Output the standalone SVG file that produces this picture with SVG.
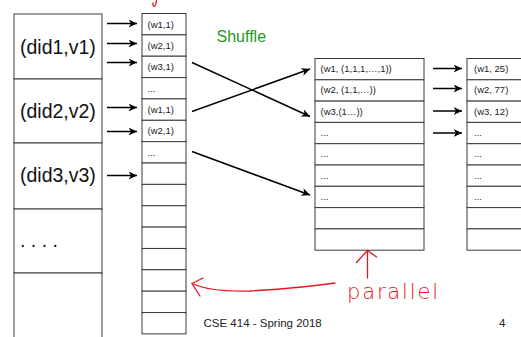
<svg xmlns="http://www.w3.org/2000/svg" width="521" height="337" viewBox="0 0 521 337">
<defs>
<style>
.cell{fill:#fff;stroke:#3a3a3a;stroke-width:1}
.big{font-family:"Liberation Sans",Arial,sans-serif;font-size:19.5px;fill:#111}
.sm{font-family:"Liberation Sans",Arial,sans-serif;font-size:9.5px;fill:#222}
.arr{stroke:#000;stroke-width:1.5;fill:none;marker-end:url(#ah)}
.red{stroke:#e8141c;stroke-width:1.3;fill:none;stroke-linecap:round;stroke-linejoin:round}
.foot{font-family:"Liberation Sans",Arial,sans-serif;font-size:11.5px;fill:#222}
</style>
<marker id="ah" markerUnits="userSpaceOnUse" markerWidth="9" markerHeight="8" refX="8.5" refY="4" orient="auto">
<path d="M0,0 L8.5,4 L0,8 L2.5,4 z" fill="#000"/>
</marker>
</defs>
<rect width="521" height="337" fill="#fff"/>

<g id="documents">
<rect class="cell" x="14" y="14" width="88" height="65"/>
<rect class="cell" x="14" y="79" width="88" height="64"/>
<rect class="cell" x="14" y="143" width="88" height="66"/>
<rect class="cell" x="14" y="209" width="88" height="64"/>
<rect class="cell" x="14" y="273" width="88" height="80"/>
<text class="big" x="20" y="53.5">(did1,v1)</text>
<text class="big" x="20" y="117.5">(did2,v2)</text>
<text class="big" x="20" y="182">(did3,v3)</text>
<text class="big" x="20" y="247">. . . .</text>
</g>

<g id="map-output">
<rect class="cell" x="142" y="13.5" width="44" height="21.36"/>
<rect class="cell" x="142" y="34.86" width="44" height="21.36"/>
<rect class="cell" x="142" y="56.22" width="44" height="21.36"/>
<rect class="cell" x="142" y="77.58" width="44" height="21.36"/>
<rect class="cell" x="142" y="98.94" width="44" height="21.36"/>
<rect class="cell" x="142" y="120.3" width="44" height="21.36"/>
<rect class="cell" x="142" y="141.66" width="44" height="21.36"/>
<rect class="cell" x="142" y="163.02" width="44" height="21.36"/>
<rect class="cell" x="142" y="184.38" width="44" height="21.36"/>
<rect class="cell" x="142" y="205.74" width="44" height="21.36"/>
<rect class="cell" x="142" y="227.1" width="44" height="21.36"/>
<rect class="cell" x="142" y="248.46" width="44" height="21.36"/>
<rect class="cell" x="142" y="269.82" width="44" height="21.36"/>
<rect class="cell" x="142" y="291.18" width="44" height="21.36"/>
<rect class="cell" x="142" y="312.54" width="44" height="21.36"/>
<text class="sm" x="147.5" y="27.5">(w1,1)</text>
<text class="sm" x="147.5" y="48.9">(w2,1)</text>
<text class="sm" x="147.5" y="70.2">(w3,1)</text>
<text class="sm" x="147.5" y="91.6">...</text>
<text class="sm" x="147.5" y="113">(w1,1)</text>
<text class="sm" x="147.5" y="134.3">(w2,1)</text>
<text class="sm" x="147.5" y="155.7">...</text>
</g>

<g id="shuffle-output">
<rect class="cell" x="315" y="58.5" width="109" height="21.3"/>
<rect class="cell" x="315" y="79.8" width="109" height="21.3"/>
<rect class="cell" x="315" y="101.1" width="109" height="21.3"/>
<rect class="cell" x="315" y="122.4" width="109" height="21.3"/>
<rect class="cell" x="315" y="143.7" width="109" height="21.3"/>
<rect class="cell" x="315" y="165" width="109" height="21.3"/>
<rect class="cell" x="315" y="186.3" width="109" height="21.3"/>
<rect class="cell" x="315" y="207.6" width="109" height="21.3"/>
<rect class="cell" x="315" y="228.9" width="109" height="21.3"/>
<text class="sm" x="320.5" y="72">(w1, (1,1,1,…,1))</text>
<text class="sm" x="320.5" y="93.3">(w2, (1,1,…))</text>
<text class="sm" x="320.5" y="114.6">(w3,(1…))</text>
<text class="sm" x="320.5" y="135.9">...</text>
<text class="sm" x="320.5" y="157.2">...</text>
<text class="sm" x="320.5" y="178.5">...</text>
<text class="sm" x="320.5" y="199.8">...</text>
</g>

<g id="reduce-output">
<rect class="cell" x="467" y="58.5" width="80" height="21.3"/>
<rect class="cell" x="467" y="79.8" width="80" height="21.3"/>
<rect class="cell" x="467" y="101.1" width="80" height="21.3"/>
<rect class="cell" x="467" y="122.4" width="80" height="21.3"/>
<rect class="cell" x="467" y="143.7" width="80" height="21.3"/>
<rect class="cell" x="467" y="165" width="80" height="21.3"/>
<rect class="cell" x="467" y="186.3" width="80" height="21.3"/>
<rect class="cell" x="467" y="207.6" width="80" height="21.3"/>
<rect class="cell" x="467" y="228.9" width="80" height="21.3"/>
<text class="sm" x="474" y="72">(w1, 25)</text>
<text class="sm" x="474" y="93.3">(w2, 77)</text>
<text class="sm" x="474" y="114.6">(w3, 12)</text>
<text class="sm" x="474" y="135.9">...</text>
<text class="sm" x="474" y="157.2">...</text>
<text class="sm" x="474" y="178.5">...</text>
<text class="sm" x="474" y="199.8">...</text>
</g>

<g id="connectors">
<line class="arr" x1="107" y1="23.5" x2="137" y2="23.5"/>
<line class="arr" x1="107" y1="43.5" x2="137" y2="43.5"/>
<line class="arr" x1="107" y1="62.5" x2="137" y2="62.5"/>
<line class="arr" x1="107" y1="107.5" x2="137" y2="107.5"/>
<line class="arr" x1="107" y1="131.5" x2="137" y2="131.5"/>
<line class="arr" x1="107" y1="175.5" x2="137" y2="175.5"/>
<line class="arr" x1="192" y1="62.5" x2="310" y2="116.5"/>
<line class="arr" x1="192" y1="111.5" x2="310" y2="69"/>
<line class="arr" x1="192" y1="151.5" x2="310" y2="195"/>
<line class="arr" x1="433" y1="68.5" x2="462" y2="68.5"/>
<line class="arr" x1="433" y1="88.5" x2="462" y2="88.5"/>
<line class="arr" x1="433" y1="111" x2="462" y2="111"/>
<line class="arr" x1="433" y1="133" x2="462" y2="133"/>
</g>

<text x="216.5" y="42" font-family="Liberation Sans, Arial, sans-serif" font-size="16" fill="#1d9a1d">Shuffle</text>

<g id="annotations">
<path class="red" d="M156.5,0.5 Q156,6 154,6.5 Q152.5,6 153,3"/>
<path class="red" d="M335,283 Q300,288 250,291 Q210,292 192,283.5"/>
<path class="red" d="M203,278 L192,283.5 L200,296"/>
<path class="red" d="M367.5,278 L367.5,250.5"/>
<path class="red" d="M356.5,262.5 L367.5,250.5 L376.5,257"/>
<text x="347" y="299" font-family="DejaVu Sans, sans-serif" font-weight="200" font-size="21" fill="#e8141c" textLength="91" lengthAdjust="spacing">parallel</text>
</g>

<text class="foot" x="203.5" y="326.5">CSE 414 - Spring 2018</text>
<text class="foot" x="499" y="326.5">4</text>
</svg>
